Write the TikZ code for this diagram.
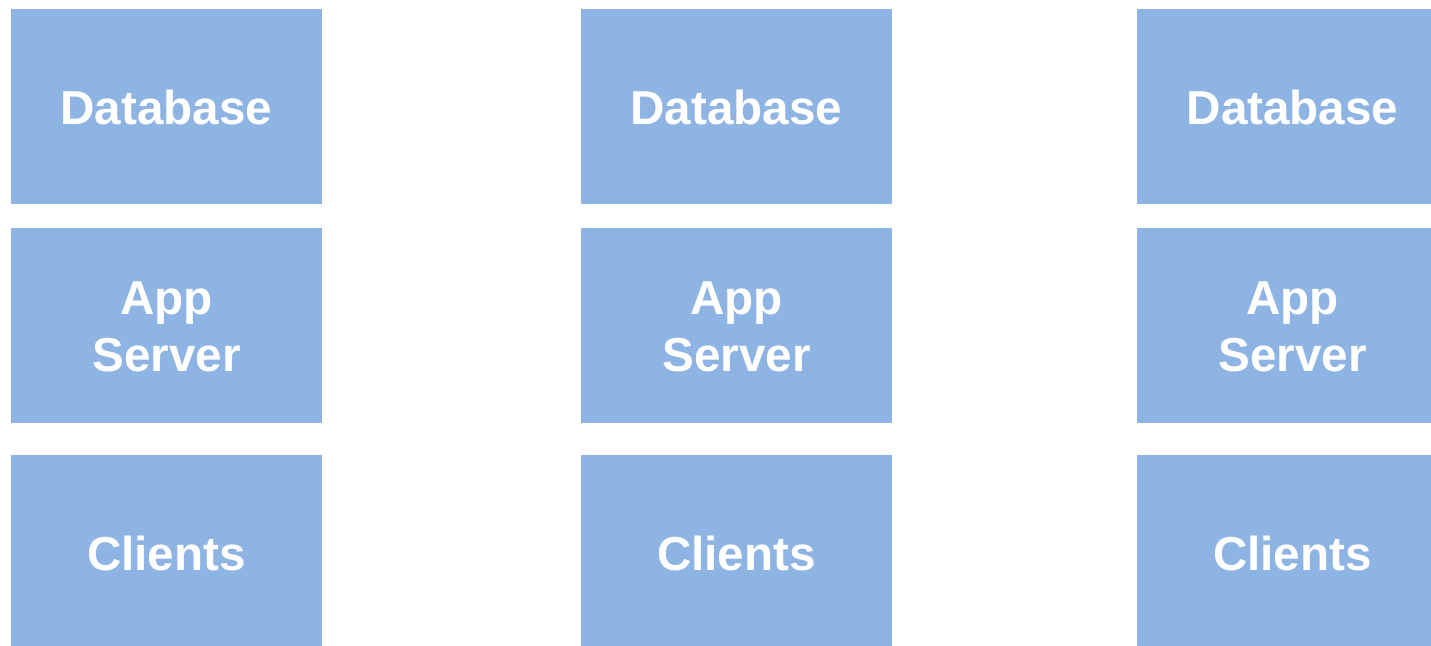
\documentclass[tikz,border=0pt]{standalone}
\usepackage{fontspec}
\setmainfont{Liberation Sans}
\definecolor{boxblue}{HTML}{8EB4E3}
\begin{document}
\begin{tikzpicture}[x=1pt,y=-1pt,
  tier/.style={fill=boxblue,draw=none,minimum width=310.5pt,minimum height=195pt,
    inner sep=0pt,anchor=north west,text=white,font=\fontsize{47.6}{56.5}\selectfont\bfseries,align=center,
    text depth=0pt}]
\useasboundingbox (0,0) rectangle (1431,645);
\clip (0,0) rectangle (1431,645);
\node[tier] (db1) at (11,9) {\raisebox{-2pt}{Database}};
\node[tier] (app1) at (11,228) {\raisebox{-2pt}{App}\\\raisebox{-2pt}{Server}};
\node[tier] (cl1) at (11,455) {\raisebox{-2pt}{Clients}};
\node[tier] (db2) at (581,9) {\raisebox{-2pt}{Database}};
\node[tier] (app2) at (581,228) {\raisebox{-2pt}{App}\\\raisebox{-2pt}{Server}};
\node[tier] (cl2) at (581,455) {\raisebox{-2pt}{Clients}};
\node[tier] (db3) at (1137,9) {\raisebox{-2pt}{Database}};
\node[tier] (app3) at (1137,228) {\raisebox{-2pt}{App}\\\raisebox{-2pt}{Server}};
\node[tier] (cl3) at (1137,455) {\raisebox{-2pt}{Clients}};
\end{tikzpicture}
\end{document}
